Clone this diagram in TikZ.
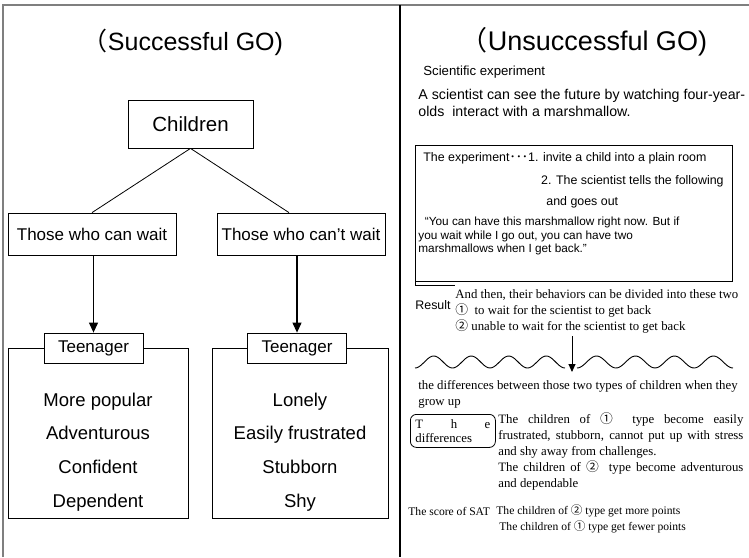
\documentclass[tikz,border=0pt]{standalone}
\usepackage{fontspec}
\setmainfont{Liberation Serif}
\setsansfont{Liberation Sans}
\newfontfamily\cjk{Noto Sans CJK JP}
\usetikzlibrary{arrows.meta, positioning}
\definecolor{cframe}{HTML}{7F7F7F}
\setlength{\parindent}{0pt}
\newcommand{\cnum}[1]{{\cjk #1}}
\tikzset{
  every picture/.style={font=\sffamily, line width=0.8pt},
  box/.style={draw, align=center, inner sep=0pt, font=\sffamily\fontsize{17}{20}\selectfont},
  arrow/.style={-{Triangle[length=10pt, width=9pt]}, line width=1.1pt},
  title/.style={font=\sffamily\fontsize{25}{28}\selectfont},
  note/.style={font=\rmfamily\fontsize{12.8}{16}\selectfont, align=left, inner sep=0pt},
  plain/.style={font=\sffamily\fontsize{12.4}{14}\selectfont, align=left, inner sep=0pt},
}

\begin{document}
\begin{tikzpicture}[x=1pt, y=-1pt,
  list/.style={font=\sffamily\fontsize{18.5}{33.7}\selectfont, align=center},
  frame/.style={draw=cframe, line width=1.2pt},
  small/.style={note, font=\rmfamily\fontsize{11.6}{16}\selectfont},
  wave/.style={line width=0.9pt, smooth}]
  \useasboundingbox (0,0) rectangle (749,557);
  % page frame
  \draw[frame] (3,557) -- (3,5) -- (749,5);
  \draw[line width=2.2pt] (400,5) -- (400,557);
  % successful side
  \node[title] (st) at (183,42) {\cnum{（}Successful GO)};
  \node[box, font=\sffamily\fontsize{20.5}{24}\selectfont, minimum width=125pt, minimum height=48pt] (ch) at (190.5,124) {Children};
  \node[box, minimum width=168pt, minimum height=42pt] (cw) at (92,234) {Those who can wait};
  \node[box, minimum width=168pt, minimum height=42pt] (nw) at (301,234) {Those who can't wait};
  \draw (ch.south) -- (cw.north);
  \draw (ch.south) -- ([xshift=-12pt]nw.north);
  \node[draw, minimum width=180pt, minimum height=170pt] (lb) at (98,433) {};
  \node[draw, minimum width=176pt, minimum height=170pt] (rb) at (300,433) {};
  \node[box, fill=white, minimum width=99pt, minimum height=30pt] (lt) at (93.5,348) {Teenager};
  \node[box, fill=white, minimum width=99pt, minimum height=30pt] (rt) at (297,348) {Teenager};
  \draw[arrow] (lt.north |- cw.south) -- (lt.north);
  \draw[arrow] (rt.north |- nw.south) -- (rt.north);
  \node[list] (ll) at (98,452) {More popular\\Adventurous\\Confident\\Dependent};
  \node[list] (rl) at (300,452) {Lonely\\Easily frustrated\\Stubborn\\Shy};
  % unsuccessful side
  \node[title, font=\sffamily\fontsize{27}{30}\selectfont] (ut) at (584,42) {\cnum{（}Unsuccessful GO)};
  \node[plain, font=\sffamily\fontsize{13.2}{16}\selectfont, anchor=west] (se) at (423,72) {Scientific experiment};
  \node[plain, font=\sffamily\fontsize{14.2}{17}\selectfont, anchor=north west] (fs) at (418,89)
    {A scientist can see the future by watching four-year-\\olds\ \ interact with a marshmallow.};
  \node[draw, minimum width=317pt, minimum height=136pt, anchor=north west, inner sep=0pt] (xb) at (415,145) {};
  \draw (xb.south west) -- ++(0,4) -- ++(40,0);
  \node[plain, anchor=west] (x1) at (423,158) {The experiment\cnum{･･･}1. invite a child into a plain room};
  \node[plain, anchor=east] (x2) at (724,181) {2. The scientist tells the following};
  \node[plain, anchor=west] (x3) at (546,202) {and goes out};
  \node[plain, font=\sffamily\fontsize{11.8}{13.5}\selectfont, anchor=north west] (x4) at (418,217)
    {\ \ “You can have this marshmallow right now. But if\\you wait while I go out, you can have two\\marshmallows when I get back.”};
  \node[plain, anchor=west] (rs) at (415,305) {Result};
  \node[note, anchor=north west] (rd) at (455,289)
    {And then, their behaviors can be divided into these two\\
     \cnum{①}\ \ to wait for the scientist to get back\\
     \cnum{②} unable to wait for the scientist to get back};
  % waves and arrow
  \coordinate (wl) at (415,362);
  \coordinate (wr) at (577,362);
  \draw[wave, shift={(wl)}] plot[domain=0:150, samples=90] (\x, {6*cos(9.6*\x)});
  \draw[wave, shift={(wr)}] plot[domain=0:156, samples=90] (\x, {6*cos(9.2308*\x)});
  \coordinate (a1) at (572,336);
  \coordinate (a2) at (572,372);
  \draw[arrow, -{Triangle[length=8pt, width=7pt]}, line width=0.9pt] (a1) -- (a2);
  \node[note, anchor=north west] (gd) at (418,380)
    {the differences between those two types of children when they\\grow up};
  \node[note, draw, rounded corners=6pt, inner sep=5pt, text width=75pt, font=\rmfamily\fontsize{12.8}{14}\selectfont,
    anchor=north west] (td) at (410,414) {\hbox to\hsize{T\hfill h\hfill e}\par differences};
  \node[note, text width=245pt, align=justify, anchor=north west] (dp) at (498,412)
    {\hyphenpenalty=10000 \tolerance=10000
     The children of \cnum{①}\ \ type become easily frustrated, stubborn, cannot put up with stress and shy away from challenges.\par
     The children of \cnum{②}\ \ type become adventurous and dependable\par};
  \node[small, anchor=west] (sat) at (408,511) {The score of SAT};
  \node[small, anchor=west] (s2) at (496,511) {The children of \cnum{②}\ type get more points};
  \node[small, anchor=west] (s1) at (499,527) {The children of \cnum{①}\ type get fewer points};
\end{tikzpicture}
\end{document}
